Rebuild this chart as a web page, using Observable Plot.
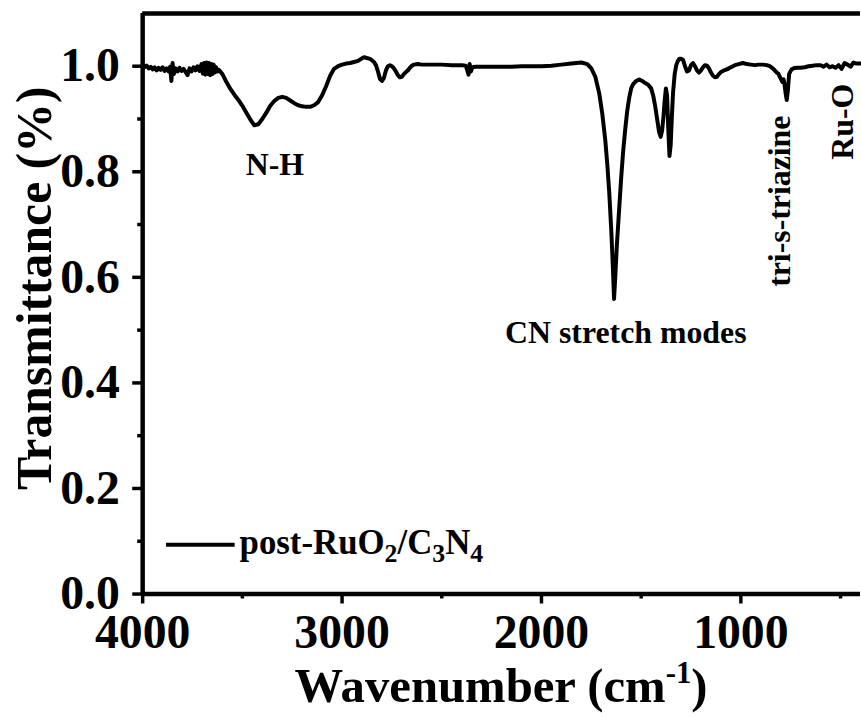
<!DOCTYPE html>
<html>
<head>
<meta charset="utf-8">
<script src="https://cdn.jsdelivr.net/npm/d3@7"></script>
<script src="https://cdn.jsdelivr.net/npm/@observablehq/plot@0.6"></script>
<style>
  html, body { margin: 0; padding: 0; background: #fff; overflow: hidden; }
  #chart { width: 861px; height: 717px; overflow: hidden; }
</style>
</head>
<body>
<div id="chart"></div>
<script>
// FTIR spectrum of post-RuO2/C3N4: wavenumber (cm-1) and transmittance
const wavenumber = [
  4000, 3990, 3980, 3970, 3960, 3950, 3940, 3930, 3920, 3910,
  3900, 3890, 3880, 3870, 3862, 3856, 3850, 3844, 3835, 3825,
  3815, 3805, 3795, 3785, 3775, 3765, 3755, 3745, 3735, 3725,
  3715, 3705, 3698, 3692, 3686, 3680, 3674, 3668, 3662, 3656,
  3650, 3644, 3638, 3632, 3626, 3618, 3600, 3580, 3560, 3540,
  3520, 3500, 3480, 3460, 3440, 3420, 3400, 3380, 3360, 3340,
  3320, 3300, 3280, 3260, 3240, 3220, 3200, 3180, 3160, 3140,
  3120, 3100, 3080, 3060, 3040, 3020, 3000, 2980, 2960, 2940,
  2920, 2900, 2890, 2880, 2860, 2840, 2830, 2820, 2810, 2800,
  2790, 2780, 2770, 2760, 2750, 2740, 2730, 2720, 2710, 2700,
  2690, 2680, 2670, 2660, 2650, 2640, 2620, 2600, 2550, 2500,
  2450, 2400, 2380, 2372, 2366, 2360, 2354, 2346, 2330, 2300,
  2250, 2200, 2150, 2100, 2050, 2000, 1950, 1900, 1850, 1800,
  1770, 1750, 1730, 1710, 1695, 1680, 1670, 1660, 1650, 1642,
  1636, 1630, 1622, 1612, 1600, 1590, 1580, 1570, 1560, 1550,
  1540, 1525, 1510, 1495, 1480, 1465, 1450, 1440, 1430, 1420,
  1410, 1402, 1395, 1388, 1382, 1376, 1370, 1364, 1358, 1352,
  1346, 1340, 1332, 1324, 1316, 1308, 1300, 1290, 1280, 1270,
  1260, 1250, 1240, 1230, 1220, 1210, 1200, 1190, 1180, 1170,
  1160, 1150, 1140, 1130, 1120, 1110, 1100, 1085, 1070, 1050,
  1030, 1010, 990, 970, 950, 930, 910, 890, 870, 855,
  840, 830, 820, 812, 805, 798, 792, 786, 781, 776,
  770, 764, 758, 752, 745, 735, 720, 700, 680, 660,
  640, 620, 600, 585, 570, 555, 540, 525, 510, 495,
  480, 465, 450, 435, 420, 400
];
const transmittance = [
  1.000, 0.998, 1.001, 0.996, 0.999, 0.994, 0.998, 0.992, 0.997, 0.993,
  0.998, 0.991, 0.996, 0.990, 0.999, 0.972, 1.006, 0.985, 0.996, 0.990,
  0.997, 0.991, 0.995, 0.989, 0.983, 0.996, 0.990, 0.998, 0.992, 1.000,
  0.991, 1.004, 0.986, 1.006, 0.984, 1.007, 0.985, 1.006, 0.983, 1.004,
  0.985, 1.003, 0.988, 0.998, 0.990, 0.993, 0.985, 0.970, 0.957, 0.946,
  0.936, 0.925, 0.912, 0.899, 0.888, 0.890, 0.900, 0.912, 0.925, 0.934,
  0.940, 0.942, 0.940, 0.935, 0.930, 0.926, 0.924, 0.923, 0.923, 0.926,
  0.932, 0.945, 0.962, 0.982, 0.995, 1.000, 1.003, 1.005, 1.006, 1.008,
  1.010, 1.015, 1.017, 1.016, 1.014, 1.008, 1.002, 0.990, 0.976, 0.972,
  0.978, 0.992, 1.000, 1.002, 1.000, 0.996, 0.990, 0.983, 0.979, 0.980,
  0.985, 0.989, 0.992, 0.997, 1.001, 1.003, 1.004, 1.003, 1.003, 1.003,
  1.002, 1.002, 1.001, 0.992, 0.984, 1.004, 0.990, 0.998, 0.999, 0.999,
  0.999, 0.999, 0.999, 1.000, 1.000, 1.000, 1.001, 1.003, 1.005, 1.007,
  1.004, 0.996, 0.980, 0.948, 0.910, 0.860, 0.815, 0.760, 0.690, 0.620,
  0.559, 0.600, 0.660, 0.720, 0.790, 0.840, 0.880, 0.915, 0.940, 0.958,
  0.966, 0.972, 0.975, 0.972, 0.968, 0.965, 0.958, 0.945, 0.925, 0.900,
  0.875, 0.866, 0.878, 0.905, 0.935, 0.958, 0.945, 0.880, 0.830, 0.850,
  0.905, 0.950, 0.985, 1.002, 1.010, 1.014, 1.014, 1.012, 1.000, 0.990,
  0.992, 1.002, 1.006, 1.000, 0.992, 0.988, 0.992, 0.998, 1.002, 1.001,
  0.996, 0.988, 0.982, 0.979, 0.980, 0.985, 0.989, 0.992, 0.994, 0.998,
  1.002, 1.004, 1.006, 1.004, 1.003, 1.002, 1.003, 1.003, 1.002, 1.000,
  0.996, 0.992, 0.988, 0.986, 0.980, 0.975, 0.970, 0.975, 0.966, 0.950,
  0.936, 0.955, 0.985, 0.990, 0.994, 0.996, 0.997, 0.997, 0.998, 1.000,
  1.001, 1.002, 1.002, 0.999, 1.003, 0.998, 1.000, 0.997, 1.002, 0.995,
  1.006, 1.003, 0.999, 1.007, 1.005, 1.005
];

const xTicks = [4000, 3000, 2000, 1000];
const xMinorTicks = [3500, 2500, 1500, 500];
const yTicks = [0, 0.2, 0.4, 0.6, 0.8, 1.0];
const yMinorTicks = [0.1, 0.3, 0.5, 0.7, 0.9];

// band assignments written next to the spectrum
const bandText = ["N-H", "CN stretch modes", "tri-s-triazine", "Ru-O"];
const bandX = [3337, 1577, 805, 491];
const bandY = [0.814, 0.494, 0.582, 0.823];
const bandVertical = [false, false, true, true];

const spectrum = wavenumber.map((w, i) => ({w, t: transmittance[i]}));
const bands = bandText.map((text, i) => ({text, x: bandX[i], y: bandY[i], vertical: bandVertical[i]}));

const serif = '"Liberation Serif", "Times New Roman", Times, serif';

const plot = Plot.plot({
  width: 866,
  height: 717,
  marginLeft: 143,
  marginRight: 1,
  marginTop: 13,
  marginBottom: 120,
  style: {fontFamily: serif, fontWeight: "bold", color: "#000", background: "#fff", overflow: "visible"},
  x: {domain: [4000, 400], label: null},
  y: {domain: [0, 1.1], label: null},
  marks: [
    Plot.axisX({ticks: xTicks, tickSize: 10, tickPadding: 10, tickFormat: d => String(d),
      fontSize: 48, strokeWidth: 3.5, label: null}),
    Plot.axisX({ticks: xMinorTicks, tickSize: 5, tickFormat: () => "", strokeWidth: 3.5, label: null}),
    Plot.axisY({ticks: yTicks, tickSize: 10, tickPadding: 13, tickFormat: d3.format(".1f"),
      fontSize: 48, strokeWidth: 3.5, label: null}),
    Plot.axisY({ticks: yMinorTicks, tickSize: 5, tickFormat: () => "", strokeWidth: 3.5, label: null}),
    Plot.ruleX([4000], {strokeWidth: 4.5}),
    Plot.ruleY([0], {strokeWidth: 4.5}),
    Plot.ruleY([1.1], {strokeWidth: 4.5}),
    Plot.line(spectrum, {x: "w", y: "t", stroke: "#000", strokeWidth: 4, strokeLinejoin: "round"}),
    Plot.text(bands.filter(d => !d.vertical), {x: "x", y: "y", text: "text", textAnchor: "middle",
      lineAnchor: "middle", fontSize: 32, fontWeight: "bold", fill: "#000"}),
    Plot.text(bands.filter(d => d.vertical), {x: "x", y: "y", text: "text", rotate: -90, textAnchor: "start",
      lineAnchor: "middle", fontSize: 32, fontWeight: "bold", fill: "#000"})
  ]
});

document.getElementById("chart").appendChild(plot);

// axis titles and legend with sub/superscripts
const svg = d3.select(plot);
const frameLeft = 143, frameRight = 865, frameTop = 13, frameBottom = 597;

const xt = svg.append("text")
  .attr("x", (frameLeft + frameRight) / 2).attr("y", 706)
  .attr("text-anchor", "middle")
  .attr("font-family", serif).attr("font-weight", "bold").attr("font-size", 49)
  .attr("fill", "#000");
xt.append("tspan").text("Wavenumber (cm");
xt.append("tspan").attr("dy", -19).attr("font-size", 31).text("-1");
xt.append("tspan").attr("dy", 19).text(")");

svg.append("text")
  .attr("transform", `translate(51,${(frameTop + frameBottom) / 2 - 15}) rotate(-90)`)
  .attr("text-anchor", "middle")
  .attr("font-family", serif).attr("font-weight", "bold").attr("font-size", 50)
  .attr("fill", "#000")
  .text("Transmittance (%)");

// legend
svg.append("line")
  .attr("x1", frameLeft + 24).attr("x2", frameLeft + 93)
  .attr("y1", 548).attr("y2", 548)
  .attr("stroke", "#000").attr("stroke-width", 4);
const lg = svg.append("text")
  .attr("x", frameLeft + 98).attr("y", 557)
  .attr("text-anchor", "start")
  .attr("font-family", serif).attr("font-weight", "bold").attr("font-size", 35)
  .attr("fill", "#000");
lg.append("tspan").text("post-RuO");
lg.append("tspan").attr("dy", 8).attr("font-size", 26).text("2");
lg.append("tspan").attr("dy", -8).text("/C");
lg.append("tspan").attr("dy", 8).attr("font-size", 26).text("3");
lg.append("tspan").attr("dy", -8).text("N");
lg.append("tspan").attr("dy", 8).attr("font-size", 26).text("4");
</script>
</body>
</html>
